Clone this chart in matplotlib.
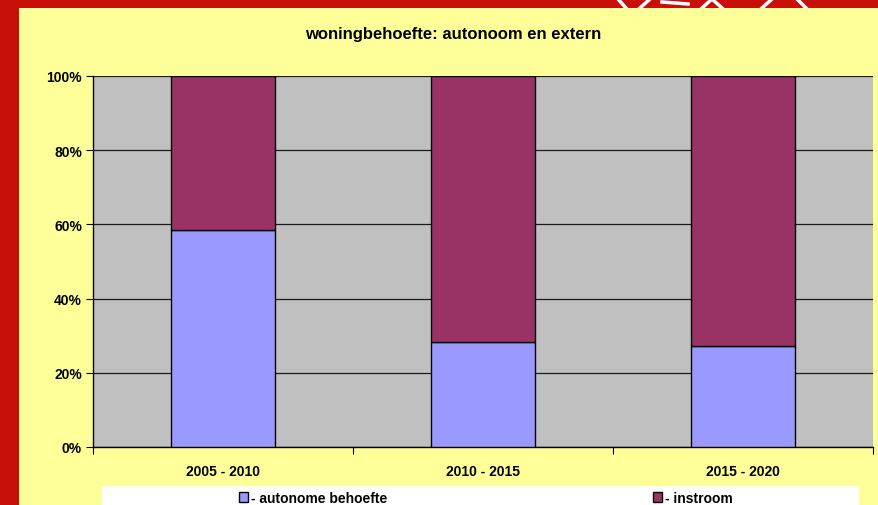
import matplotlib
matplotlib.use("Agg")
import matplotlib.pyplot as plt
from matplotlib.patches import Rectangle, Patch
from matplotlib.lines import Line2D
import numpy as np

categories = ["2005 - 2010", "2010 - 2015", "2015 - 2020"]
autonoom = [58.5, 28.3, 27.2]
instroom = [41.5, 71.7, 72.8]
series_names = ["- autonome behoefte", "- instroom"]
yticks = [0, 20, 40, 60, 80, 100]
ytick_labels = ["0%", "20%", "40%", "60%", "80%", "100%"]

W, H = 879, 506
fig = plt.figure(figsize=(W / 100, H / 100), dpi=100)
fig.patch.set_facecolor("#C8100A")
plt.rcParams["font.family"] = ["Liberation Sans", "DejaVu Sans"]

# decorative white logo strokes in the top strip
for (x0, y0, x1, y1) in [(618, 0, 626, 9), (640, 9, 650, 0), (662, 3, 688, 5),
                         (702, 9, 712, 0), (712, 0, 722, 9), (762, 9, 772, 0),
                         (797, 0, 806, 9)]:
    fig.add_artist(Line2D([x0 / W, x1 / W], [1 - y0 / H, 1 - y1 / H],
                          transform=fig.transFigure, color="white", linewidth=2.5, zorder=-2))

# yellow chart area
fig.add_artist(Rectangle((19 / W, 0), 1 - 19 / W, 1 - 9 / H, transform=fig.transFigure,
                         facecolor="#FFFF99", edgecolor="none", zorder=-1))

ax = fig.add_axes([93 / W, 1 - 448 / H, (873 - 93) / W, (448 - 77) / H])
ax.set_zorder(1)
ax.set_facecolor("#C0C0C0")
x = np.arange(len(categories))
ax.bar(x, autonoom, width=0.4, color="#9999FF", edgecolor="black", linewidth=1, zorder=3)
ax.bar(x, instroom, width=0.4, bottom=autonoom, color="#993366", edgecolor="black", linewidth=1, zorder=3)
ax.set_xlim(-0.5, len(categories) - 0.5)
ax.set_ylim(0, 100)
ax.set_yticks(yticks)
ax.set_yticklabels(ytick_labels, fontsize=10, fontweight="bold")
ax.yaxis.grid(True, color="#1a1a1a", linewidth=0.9, zorder=1)
ax.set_axisbelow(True)
ax.set_xticks(np.arange(len(categories) + 1) - 0.5)
ax.set_xticklabels([])
ax.set_xticks(x, minor=True)
ax.set_xticklabels(categories, minor=True, fontsize=10, fontweight="bold")
ax.tick_params(axis="x", which="minor", length=0, pad=12)
ax.tick_params(axis="x", which="major", length=5, direction="out", color="black")
ax.tick_params(axis="y", length=5, direction="out", color="black", pad=3)
for s in ["top", "right"]:
    ax.spines[s].set_visible(False)
for s in ["left", "bottom"]:
    ax.spines[s].set_color("black")
    ax.spines[s].set_linewidth(1)

fig.text(453 / W, 1 - 35 / H, "woningbehoefte: autonoom en extern", ha="center", va="center",
         fontsize=12, fontweight="bold")

# legend box
fig.add_artist(Rectangle((102 / W, 0), (859 - 102) / W, 19 / H, transform=fig.transFigure,
                         facecolor="white", edgecolor="none", zorder=1))
leg1 = fig.legend([Patch(facecolor="#9999FF", edgecolor="black")], [series_names[0]],
                  loc="center left", bbox_to_anchor=(232 / W, 7 / H), frameon=False,
                  handlelength=0.65, handleheight=0.65, handletextpad=0.2, borderpad=0,
                  prop={"size": 10, "weight": "bold"})
leg2 = fig.legend([Patch(facecolor="#993366", edgecolor="black")], [series_names[1]],
                  loc="center left", bbox_to_anchor=(646 / W, 7 / H), frameon=False,
                  handlelength=0.65, handleheight=0.65, handletextpad=0.2, borderpad=0,
                  prop={"size": 10, "weight": "bold"})
leg1.set_zorder(2)
leg2.set_zorder(2)

fig.savefig("out.png", dpi=100, facecolor=fig.get_facecolor())
